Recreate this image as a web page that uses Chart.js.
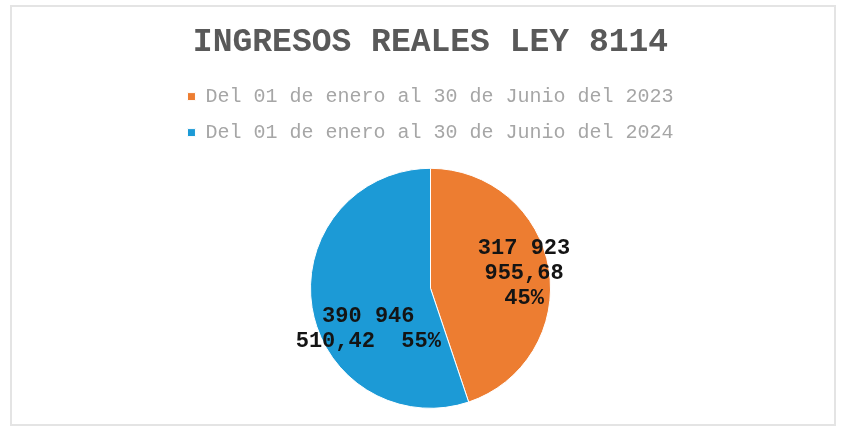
<!DOCTYPE html>
<html lang="es">
<head>
<meta charset="utf-8">
<title>Ingresos reales Ley 8114</title>
<script src="https://cdn.jsdelivr.net/npm/chart.js@4.4.1/dist/chart.umd.min.js"></script>
<style>
  html, body { margin: 0; padding: 0; background: #ffffff; }
  #wrap { position: relative; width: 841px; height: 430px; overflow: hidden; }
  #frame {
    position: absolute; left: 10px; top: 5px; width: 826px; height: 421px;
    border: 2px solid #e4e4e4; box-sizing: border-box;
  }
  #chart { position: absolute; left: 0; top: 0; }
</style>
</head>
<body>
<div id="wrap">
  <div id="frame"></div>
  <canvas id="chart" width="841" height="430"></canvas>
</div>
<script>
// Periods compared and their real income (colones)
const categories = [
  'Del 01 de enero al 30 de Junio del 2023',
  'Del 01 de enero al 30 de Junio del 2024'
];
const ingresos = [317923955.68, 390946510.42];
const colores = ['#ED7D31', '#1C9AD6'];
const titulo = 'INGRESOS REALES LEY 8114';

const mono = "'Liberation Mono', 'Courier New', 'DejaVu Sans Mono', monospace";

// "317 923 955,68" style formatting
function formatoMonto(v) {
  const [ent, dec] = v.toFixed(2).split('.');
  return ent.replace(/\B(?=(\d{3})+(?!\d))/g, ' ') + ',' + dec;
}

// Greedy word wrap to a maximum number of characters per line
function envolver(texto, maxChars) {
  const partes = texto.split(/(\s+)/);
  const lineas = [];
  let actual = '';
  for (let i = 0; i < partes.length; i += 2) {
    const palabra = partes[i];
    const sep = i > 0 ? partes[i - 1] : '';
    if (actual === '') { actual = palabra; continue; }
    if ((actual + sep + palabra).length <= maxChars) actual += sep + palabra;
    else { lineas.push(actual); actual = palabra; }
  }
  if (actual) lineas.push(actual);
  return lineas;
}

// Data labels: value + percentage, wrapped inside each slice
const etiquetas = {
  id: 'etiquetasValor',
  afterDatasetsDraw(chart, args, opts) {
    const { ctx } = chart;
    const meta = chart.getDatasetMeta(0);
    const data = chart.data.datasets[0].data;
    const total = data.reduce((a, b) => a + b, 0);
    ctx.save();
    ctx.font = `bold ${opts.size}px ${mono}`;
    ctx.fillStyle = opts.color;
    ctx.textAlign = 'center';
    ctx.textBaseline = 'middle';
    meta.data.forEach((arc, i) => {
      const p = arc.getProps(['x', 'y', 'startAngle', 'endAngle', 'outerRadius'], true);
      const place = opts.placement[i];
      const mid = (p.startAngle + p.endAngle) / 2 + place.turn * Math.PI / 180;
      const cx = p.x + Math.cos(mid) * p.outerRadius * place.frac;
      const cy = p.y + Math.sin(mid) * p.outerRadius * place.frac;
      const pct = Math.round(data[i] / total * 100) + '%';
      const lineas = envolver(formatoMonto(data[i]) + '  ' + pct, place.wrap);
      const lh = opts.lineHeight;
      const y0 = cy - (lineas.length - 1) * lh / 2;
      lineas.forEach((l, k) => ctx.fillText(l, cx, y0 + k * lh));
    });
    ctx.restore();
  }
};

new Chart(document.getElementById('chart'), {
  type: 'pie',
  data: {
    labels: categories,
    datasets: [{
      data: ingresos,
      backgroundColor: colores,
      borderColor: '#ffffff',
      borderWidth: 1,
      radius: 120
    }]
  },
  plugins: [etiquetas],
  options: {
    responsive: false,
    animation: false,
    layout: { padding: { left: 20, right: 0, top: 0, bottom: 6 } },
    plugins: {
      title: {
        display: true,
        text: titulo,
        color: '#595959',
        font: { family: mono, size: 33, weight: 'bold' },
        padding: { top: 23, bottom: 8 }
      },
      legend: {
        position: 'top',
        labels: {
          boxWidth: 8,
          boxHeight: 8,
          padding: 16,
          color: '#a6a6a6',
          font: { family: mono, size: 20 }
        }
      },
      tooltip: { enabled: false },
      etiquetasValor: {
        size: 22,
        lineHeight: 25,
        color: '#141414',
        placement: [
          { frac: 0.79, turn: 0, wrap: 7 },
          { frac: 0.62, turn: -24, wrap: 11 }
        ]
      }
    }
  }
});
</script>
</body>
</html>
